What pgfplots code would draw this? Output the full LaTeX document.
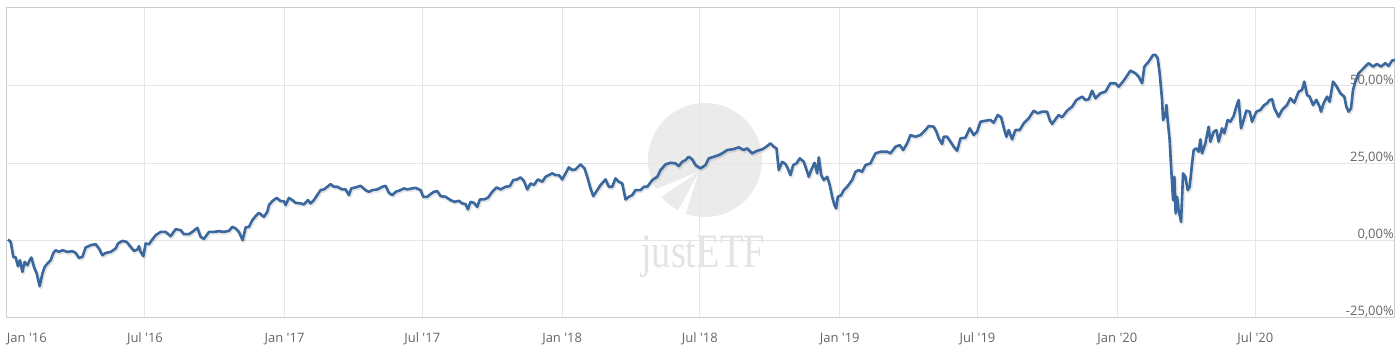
\documentclass[border=0pt]{standalone}
\usepackage{fontspec}
\newfontfamily\osans{Open Sans}
\newfontfamily\wmserif{Liberation Serif}
\usepackage{pgfplots}
\pgfplotsset{compat=1.18}
\usepackage{pgfplotstable}
\definecolor{seriesblue}{HTML}{3A689E}
\definecolor{labgray}{HTML}{666666}
\definecolor{gridgray}{HTML}{E6E6E6}
\definecolor{framegray}{HTML}{CCCCCC}
\definecolor{wmcircle}{HTML}{EBEBEB}
\definecolor{wmtext}{HTML}{E4E4E4}

\pgfplotstableread{
t v
0.0036 0.23
0.0133 -0.55
0.0230 -5.42
0.0313 -5.62
0.0396 -8.44
0.0468 -6.49
0.0555 -10.29
0.0637 -7.05
0.0735 -8.12
0.0828 -6.27
0.0879 -5.62
0.0972 -8.67
0.1070 -10.81
0.1178 -14.94
0.1275 -10.81
0.1358 -8.67
0.1455 -7.57
0.1574 -6.49
0.1671 -4.12
0.1754 -3.25
0.1873 -3.80
0.1995 -3.25
0.2175 -3.80
0.2355 -3.57
0.2474 -4.12
0.2593 -5.75
0.2715 -5.42
0.2834 -2.37
0.3014 -1.62
0.3194 -1.30
0.3313 -2.69
0.3436 -4.87
0.3555 -4.12
0.3735 -3.80
0.3915 -2.69
0.3998 -1.07
0.4156 -0.23
0.4311 -0.55
0.4455 -2.18
0.4574 -3.47
0.4696 -3.02
0.4754 -1.95
0.4815 -3.80
0.4912 -5.19
0.4995 -1.07
0.5114 -1.30
0.5236 0.23
0.5355 1.62
0.5535 2.69
0.5715 2.69
0.5895 1.30
0.6075 3.57
0.6256 3.25
0.6374 1.95
0.6555 1.95
0.6677 2.69
0.6857 3.99
0.6976 1.07
0.7095 0.42
0.7275 2.69
0.7455 2.69
0.7635 2.92
0.7815 2.69
0.7995 3.02
0.8118 4.32
0.8236 3.80
0.8355 2.69
0.8489 0.00
0.8597 4.12
0.8715 4.32
0.8838 6.49
0.8957 7.79
0.9076 8.86
0.9256 7.57
0.9378 9.19
0.9436 11.36
0.9558 12.66
0.9713 13.73
0.9857 12.66
0.9976 12.66
1.0037 11.36
1.0156 13.73
1.0278 12.99
1.0397 12.11
1.0577 11.92
1.0696 11.59
1.0840 12.99
1.0937 11.92
1.1056 12.99
1.1200 14.94
1.1297 16.23
1.1416 16.46
1.1539 17.31
1.1658 18.18
1.1777 17.31
1.1899 17.31
1.2079 16.46
1.2198 16.46
1.2317 14.61
1.2403 16.79
1.2558 17.11
1.2738 17.63
1.2918 16.23
1.3037 15.68
1.3160 16.23
1.3340 16.46
1.3520 17.31
1.3638 17.63
1.3757 15.36
1.3880 14.61
1.3999 15.68
1.4179 16.23
1.4298 16.79
1.4420 16.46
1.4600 16.79
1.4719 16.98
1.4899 16.23
1.4996 14.06
1.5140 14.06
1.5259 14.94
1.5378 15.68
1.5500 15.91
1.5619 14.29
1.5799 14.06
1.5979 12.99
1.6123 12.44
1.6278 12.76
1.6401 11.92
1.6520 11.69
1.6603 9.97
1.6700 12.44
1.6819 12.11
1.6941 10.81
1.7035 13.21
1.7179 13.21
1.7323 13.73
1.7481 15.68
1.7636 17.11
1.7780 16.46
1.7960 17.31
1.8115 17.53
1.8237 19.48
1.8381 19.71
1.8500 20.36
1.8619 19.25
1.8742 16.46
1.8861 18.41
1.8979 17.86
1.9123 19.71
1.9282 18.93
1.9401 20.55
1.9519 21.10
1.9642 21.66
1.9761 21.10
1.9880 21.10
2.0002 19.71
2.0121 21.66
2.0240 23.60
2.0362 22.73
2.0481 22.96
2.0661 24.58
2.0805 23.28
2.0903 20.55
2.1021 16.79
2.1119 14.29
2.1263 16.23
2.1382 17.86
2.1562 19.71
2.1680 17.31
2.1803 17.31
2.1922 20.03
2.2041 18.93
2.2163 18.41
2.2282 13.21
2.2401 14.06
2.2523 14.61
2.2642 16.23
2.2822 16.23
2.2941 17.31
2.3064 17.31
2.3244 19.48
2.3424 20.55
2.3543 22.73
2.3723 24.58
2.3903 25.10
2.4083 24.90
2.4202 24.03
2.4324 25.42
2.4443 25.97
2.4562 27.05
2.4684 26.20
2.4803 24.35
2.4983 23.28
2.5163 24.35
2.5282 26.53
2.5462 27.05
2.5642 27.60
2.5764 28.15
2.5945 29.22
2.6182 29.55
2.6362 30.10
2.6542 29.22
2.6665 29.77
2.6845 28.15
2.7025 28.99
2.7205 29.45
2.7324 30.10
2.7504 31.40
2.7623 30.29
2.7720 29.77
2.7803 22.73
2.7925 25.42
2.8044 24.68
2.8127 23.28
2.8224 21.10
2.8321 24.35
2.8440 24.90
2.8559 26.53
2.8703 25.42
2.8826 22.18
2.8883 20.55
2.8970 22.73
2.9089 25.10
2.9186 21.66
2.9244 26.85
2.9330 21.10
2.9424 19.48
2.9546 20.55
2.9640 17.86
2.9726 14.06
2.9809 11.36
2.9870 10.29
2.9928 14.06
3.0051 14.61
3.0144 16.23
3.0266 17.31
3.0446 19.48
3.0565 22.18
3.0684 22.73
3.0806 22.18
3.0925 24.35
3.1105 24.90
3.1285 28.15
3.1465 28.67
3.1706 28.67
3.1826 28.15
3.2006 30.29
3.2161 30.84
3.2283 29.22
3.2427 31.40
3.2546 34.09
3.2726 33.54
3.2906 34.09
3.3086 35.71
3.3205 37.01
3.3385 36.79
3.3482 35.16
3.3565 33.02
3.3687 31.17
3.3745 33.54
3.3868 33.54
3.3987 31.92
3.4105 30.29
3.4228 28.99
3.4347 33.02
3.4527 33.22
3.4681 36.27
3.4826 34.09
3.4948 35.16
3.5067 38.41
3.5247 38.73
3.5427 38.96
3.5546 38.09
3.5690 40.59
3.5813 39.84
3.5931 35.71
3.6003 33.54
3.6086 35.71
3.6208 32.70
3.6327 35.71
3.6482 35.71
3.6626 37.89
3.6806 39.51
3.6986 41.98
3.7130 41.14
3.7289 41.66
3.7469 41.66
3.7563 38.96
3.7649 37.66
3.7768 39.19
3.7887 40.59
3.8009 39.84
3.8189 41.98
3.8369 43.28
3.8524 45.46
3.8730 46.53
3.8849 45.46
3.8968 45.68
3.9090 48.48
3.9209 46.01
3.9389 47.63
3.9569 48.15
3.9749 50.88
3.9929 50.88
4.0048 49.77
4.0170 51.07
4.0289 52.50
4.0469 54.97
4.0649 54.12
4.0768 53.02
4.0891 50.88
4.0973 56.27
4.1128 57.89
4.1287 60.07
4.1370 60.07
4.1452 58.99
4.1524 54.12
4.1611 45.46
4.1647 38.96
4.1730 40.59
4.1766 43.83
4.1812 38.96
4.1884 32.47
4.1935 23.80
4.2007 12.99
4.2054 20.55
4.2100 8.67
4.2151 14.06
4.2208 9.74
4.2295 5.94
4.2367 21.66
4.2450 20.55
4.2533 16.23
4.2605 17.31
4.2691 24.90
4.2749 29.22
4.2846 29.77
4.2929 28.67
4.2990 32.70
4.3051 28.15
4.3170 31.40
4.3289 36.79
4.3350 31.92
4.3469 35.16
4.3566 35.71
4.3649 31.92
4.3771 36.27
4.3854 34.64
4.3973 38.96
4.4070 38.41
4.4189 40.26
4.4286 43.28
4.4369 45.46
4.4456 36.27
4.4549 38.96
4.4647 41.98
4.4765 41.66
4.4852 38.41
4.5007 41.66
4.5150 42.21
4.5294 43.83
4.5392 44.38
4.5485 45.46
4.5572 45.68
4.5655 42.76
4.5810 40.03
4.5932 42.21
4.6112 43.83
4.6231 46.01
4.6375 44.58
4.6530 48.15
4.6652 48.70
4.6735 51.40
4.6833 47.08
4.6926 46.53
4.7049 43.83
4.7167 45.46
4.7286 43.28
4.7337 41.66
4.7430 44.38
4.7553 46.53
4.7647 44.90
4.7769 51.40
4.7888 50.00
4.8032 47.63
4.8176 46.53
4.8248 43.28
4.8331 41.66
4.8417 42.76
4.8489 48.70
4.8572 51.40
4.8691 54.12
4.8871 55.75
4.9051 57.37
4.9210 56.27
4.9354 57.14
4.9498 56.27
4.9653 57.37
4.9772 56.50
4.9894 58.21
5.0000 58.44
}\perfdata

\begin{document}
\begin{tikzpicture}
\useasboundingbox (-7pt,-44.7pt) rectangle (1393pt,317.3pt);
% watermark (background logo)
\fill[wmcircle] (698pt,157.3pt) circle[radius=57pt];
\begin{scope}
\clip (698pt,157.3pt) circle[radius=57pt];
\fill[white] (691pt,145.3pt) -- (630pt,120.3pt) -- (636pt,108.3pt) -- cycle;
\fill[white] (691pt,143.3pt) -- (665pt,95.3pt) -- (675pt,91.3pt) -- cycle;
\end{scope}
\node[text=wmtext, font=\wmserif\fontsize{48}{48}\selectfont, xscale=0.8, inner sep=0pt] at (696pt,60.3pt) {justETF};
\begin{axis}[
  scale only axis, width=1388pt, height=310pt,
  xmin=0, xmax=5, ymin=-25, ymax=75.5,
  axis line style={draw=framegray, line width=1pt},
  grid=major, major grid style={draw=gridgray, line width=1pt},
  major tick length=0pt,
  xtick={0,0.497,1,1.496,2,2.496,3,3.496,4,4.497},
  xticklabels={\makebox[0pt][l]{Jan '16},Jul '16,Jan '17,Jul '17,Jan '18,Jul '18,Jan '19,Jul '19,Jan '20,Jul '20},
  ytick={-25,0,25,50},
  yticklabels={{-25,00\%},{0,00\%},{25,00\%},{50,00\%}},
  yticklabel pos=right,
  tick label style={font=\osans\fontsize{13}{15}\selectfont, text=labgray},
  yticklabel style={anchor=south east, inner sep=0pt, xshift=-1pt, yshift=-0.5pt},
  xticklabel style={yshift=-12pt},
]
\addplot[black, opacity=0.10, line width=3.6pt, line join=round, xshift=1pt, yshift=-1.3pt, forget plot] table {\perfdata};
\addplot[seriesblue, line width=2.6pt, line join=round] table {\perfdata};
\end{axis}
\end{tikzpicture}
\end{document}
